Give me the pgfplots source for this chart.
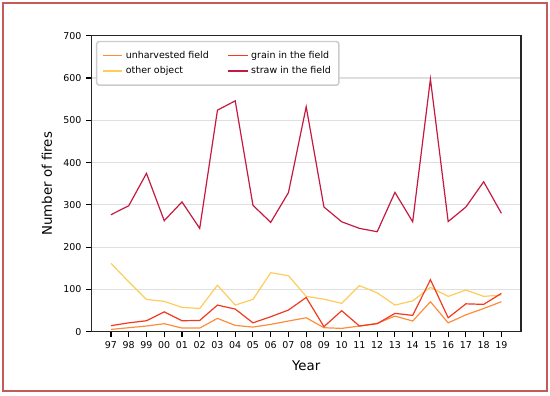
\documentclass[border=0pt]{standalone}
\usepackage{pgfplots}
\pgfplotsset{compat=1.18}
\usepackage{fontspec}
\setmainfont{DejaVu Sans}
\definecolor{cUnh}{HTML}{FD8D3C}
\definecolor{cOth}{HTML}{FECC5C}
\definecolor{cGra}{HTML}{F03B20}
\definecolor{cStr}{HTML}{C41A42}
\definecolor{cFrame}{HTML}{C55A5A}
\begin{document}
\begin{tikzpicture}
\path[use as bounding box] (-68.6pt,-48.2pt) rectangle (343.9pt,248.8pt);
\draw[cFrame, line width=1.5pt] (-66.4pt,-44.5pt) rectangle (341.6pt,246.5pt);
\begin{axis}[
  scale only axis,
  width=322.1pt, height=222pt,
  xmin=-1.1, xmax=23.1, ymin=0, ymax=700,
  xtick={0,...,22},
  xticklabels={97,98,99,00,01,02,03,04,05,06,07,08,09,10,11,12,13,14,15,16,17,18,19},
  ytick={0,100,...,700},
  tick align=outside,
  major tick length=4pt,
  xtick pos=bottom, ytick pos=left,
  tick style={black, line width=0.8pt},
  axis line style={black!85, line width=1pt},
  ymajorgrids,
  grid style={gray!25, line width=0.8pt},
  /pgf/number format/assume math mode=true,
  tick label style={font=\fontsize{7.1}{8.5}\selectfont},
  label style={font=\fontsize{8.2}{10}\selectfont},
  xlabel={Year}, ylabel={Number of fires},
  every axis x label/.style={at={(axis description cs:0.5,-0.114)}, anchor=center},
  every axis y label/.style={at={(axis description cs:-0.1036,0.5)}, anchor=center, rotate=90},
  legend columns=2,
  legend cell align=left,
  legend style={at={(axis description cs:0.0105,0.983)}, anchor=north west,
    draw=gray!40, line width=1.1pt, rounded corners=2pt,
    font=\fontsize{7.1}{8.5}\selectfont,
    inner xsep=4pt, inner ysep=5pt, row sep=1pt,
    /tikz/every even column/.append style={column sep=12pt}},
  every axis plot/.append style={line width=0.9pt},
]
\addlegendimage{legend image code/.code={\draw[draw=cUnh, line width=1.3pt, rounded corners=0pt] (0pt,0pt) -- (14.5pt,0pt);}}
\addlegendentry{unharvested field}
\addlegendimage{legend image code/.code={\draw[draw=cGra, line width=1.3pt, rounded corners=0pt] (0pt,0pt) -- (14.5pt,0pt);}}
\addlegendentry{grain in the field}
\addlegendimage{legend image code/.code={\draw[draw=cOth, line width=1.3pt, rounded corners=0pt] (0pt,0pt) -- (14.5pt,0pt);}}
\addlegendentry{other object}
\addlegendimage{legend image code/.code={\draw[draw=cStr, line width=1.3pt, rounded corners=0pt] (0pt,0pt) -- (14.5pt,0pt);}}
\addlegendentry{straw in the field}
\addplot[cUnh, forget plot] coordinates {(0,5.5) (1,9.5) (2,13.5) (3,19) (4,8.7) (5,8.7) (6,31.6) (7,15) (8,11) (9,17.4) (10,25.3) (11,33) (12,9.5) (13,7.9) (14,13.5) (15,19.8) (16,37) (17,25.3) (18,71) (19,21) (20,40) (21,55) (22,71)};
\addplot[cOth, forget plot] coordinates {(0,161.7) (1,118) (2,76.5) (3,71.8) (4,57.6) (5,55) (6,110) (7,63) (8,76.5) (9,139.6) (10,132.5) (11,83.6) (12,77) (13,67) (14,109) (15,92) (16,63) (17,73) (18,105) (19,83.6) (20,98.6) (21,83.6) (22,86.8)};
\addplot[cGra, forget plot] coordinates {(0,14.3) (1,21) (2,26) (3,47) (4,26) (5,26.7) (6,63) (7,53.6) (8,21) (9,35.5) (10,51.3) (11,81) (12,12) (13,49.7) (14,13.5) (15,19) (16,43.4) (17,38.7) (18,123) (19,33) (20,66) (21,64.7) (22,90.7)};
\addplot[cStr, forget plot] coordinates {(0,276.7) (1,298) (2,374.5) (3,262.6) (4,307) (5,244.4) (6,524) (7,546) (8,299) (9,258.6) (10,329) (11,532) (12,295) (13,260) (14,244.4) (15,236.5) (16,329.6) (17,260) (18,597.5) (19,260.6) (20,295) (21,354.7) (22,280)};
\end{axis}
\end{tikzpicture}
\end{document}
